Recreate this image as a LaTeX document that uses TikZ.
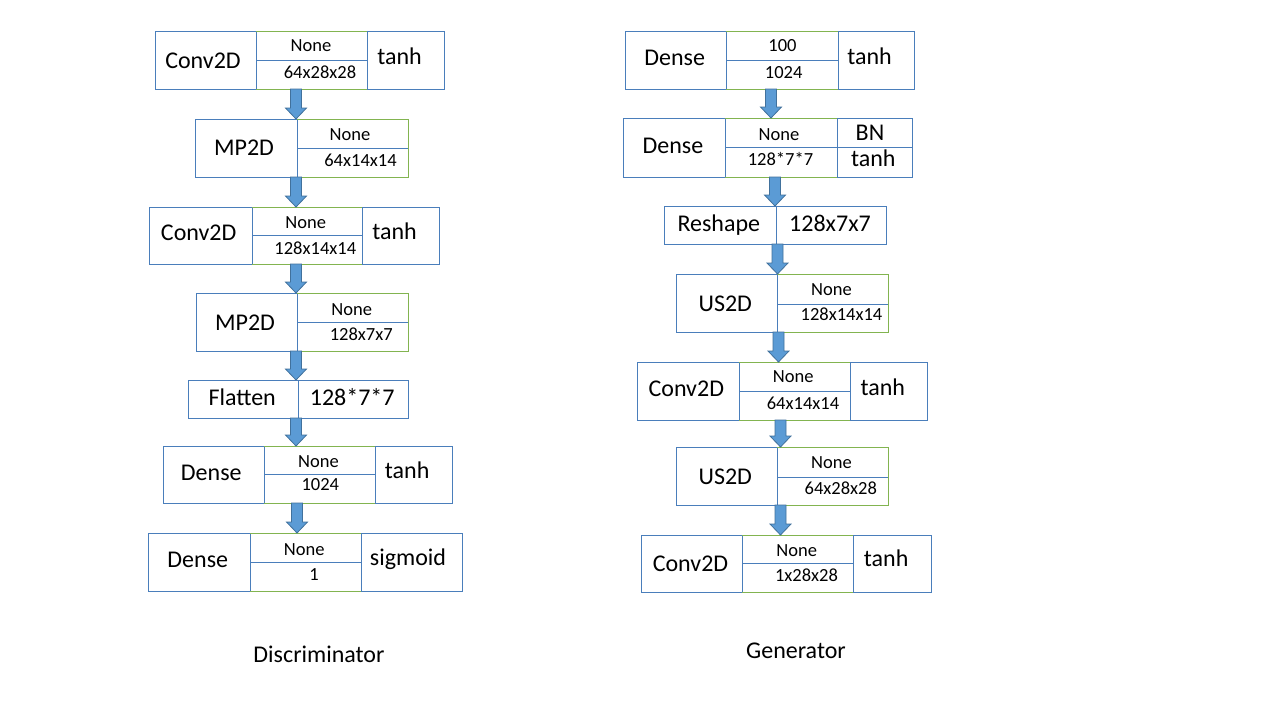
\documentclass[tikz,border=0pt]{standalone}
\usepackage{fontspec}
\setmainfont{Carlito}
\usetikzlibrary{calc}
\definecolor{boxblue}{RGB}{74,126,187}
\definecolor{boxgreen}{RGB}{130,180,80}
\definecolor{arrfill}{RGB}{91,155,213}
\definecolor{arrline}{RGB}{65,113,156}
\tikzset{
  cell/.style={draw=boxblue, line width=1pt, inner sep=0pt, outer sep=0pt},
  gline/.style={draw=boxgreen, line width=1pt},
  bigt/.style={font=\fontsize{24}{28}\selectfont, inner sep=0pt, anchor=base},
  smallt/.style={font=\fontsize{18.5}{22}\selectfont, inner sep=0pt, anchor=base},
  blockarrow/.style={fill=arrfill, draw=arrline, line width=0.8pt, line join=miter},
}
\newcommand{\cellbox}[5]{\node[cell, minimum width={#4pt-#2pt}, minimum height={#5pt-#3pt}] (#1) at ({(#2+#4)/2},{(#3+#5)/2}) {};}
\newcommand{\tx}[5]{\node[#2] (#1) at (#3,#4) {#5};}
\newcommand{\barrow}[3]{\draw[blockarrow] let \p1=(#1.south), \p2=(#2.north) in
  (#3pt-5.5pt,\y1) -- (#3pt+5.5pt,\y1) -- (#3pt+5.5pt,\y2+11pt) -- (#3pt+10.5pt,\y2+11pt)
  -- (#3pt,\y2) -- (#3pt-10.5pt,\y2+11pt) -- (#3pt-5.5pt,\y2+11pt) -- cycle;}
\begin{document}
\begin{tikzpicture}[x=1pt,y=-1pt]
\useasboundingbox (0,0) rectangle (1280,720);
\fill[white] (0,0) rectangle (1280,720);

% ---------------- Discriminator ----------------
% box 1
\cellbox{d1l}{155}{31}{256}{89}
\cellbox{d1t}{256}{31}{367}{60}
\cellbox{d1b}{256}{60}{367}{89}
\cellbox{d1r}{367}{31}{444}{89}
\draw[gline] (d1t.north west) -- (d1t.north east);
\draw[gline] (d1b.south west) -- (d1b.south east);
\tx{d1a}{bigt}{203}{68.3}{Conv2D}
\tx{d1b1}{smallt}{311}{51.7}{None}
\tx{d1b2}{smallt}{320}{78.3}{64x28x28}
\tx{d1c}{bigt}{399.5}{64}{tanh}
% box 2
\cellbox{d2l}{195}{119}{297}{177}
\cellbox{d2t}{297}{119}{408}{148}
\cellbox{d2b}{297}{148}{408}{177}
\draw[gline] (d2t.north west) -- (d2t.north east) -- (d2b.south east) -- (d2b.south west);
\tx{d2a}{bigt}{244}{155}{MP2D}
\tx{d2b1}{smallt}{350}{140}{None}
\tx{d2b2}{smallt}{360.5}{166}{64x14x14}
% box 3
\cellbox{d3l}{149}{207}{252}{264}
\cellbox{d3t}{252}{207}{362}{235}
\cellbox{d3b}{252}{235}{362}{264}
\cellbox{d3r}{362}{207}{439}{264}
\draw[gline] (d3t.north west) -- (d3t.north east);
\draw[gline] (d3b.south west) -- (d3b.south east);
\tx{d3a}{bigt}{198.7}{240.7}{Conv2D}
\tx{d3b1}{smallt}{305.7}{228.3}{None}
\tx{d3b2}{smallt}{315.3}{254}{128x14x14}
\tx{d3c}{bigt}{394.5}{239}{tanh}
% box 4
\cellbox{d4l}{196}{293}{297}{351}
\cellbox{d4t}{297}{293}{408}{322}
\cellbox{d4b}{297}{322}{408}{351}
\draw[gline] (d4t.north west) -- (d4t.north east) -- (d4b.south east) -- (d4b.south west);
\tx{d4a}{bigt}{245}{330}{MP2D}
\tx{d4b1}{smallt}{351.7}{315}{None}
\tx{d4b2}{smallt}{361.3}{340}{128x7x7}
% box 5
\cellbox{d5l}{188}{380}{298}{418}
\cellbox{d5r}{298}{380}{408}{418}
\tx{d5a}{bigt}{242.2}{405.7}{Flatten}
\tx{d5b}{bigt}{352.2}{405.7}{128*7*7}
% box 6
\cellbox{d6l}{163}{446}{264}{503}
\cellbox{d6t}{264}{446}{375}{474}
\cellbox{d6b}{264}{474}{375}{503}
\cellbox{d6r}{375}{446}{452}{503}
\draw[gline] (d6t.north west) -- (d6t.north east);
\draw[gline] (d6b.south west) -- (d6b.south east);
\tx{d6a}{bigt}{211.3}{480}{Dense}
\tx{d6b1}{smallt}{318.5}{467.3}{None}
\tx{d6b2}{smallt}{320.3}{490.7}{1024}
\tx{d6c}{bigt}{407.2}{478.3}{tanh}
% box 7
\cellbox{d7l}{148}{533}{250}{591}
\cellbox{d7t}{250}{533}{361}{562}
\cellbox{d7b}{250}{562}{361}{591}
\cellbox{d7r}{361}{533}{462}{591}
\draw[gline] (d7t.north west) -- (d7t.north east);
\draw[gline] (d7b.south west) -- (d7b.south east);
\tx{d7a}{bigt}{197.8}{567.3}{Dense}
\tx{d7b1}{smallt}{304.3}{555}{None}
\tx{d7b2}{smallt}{314}{580.7}{1}
\tx{d7c}{bigt}{408}{565}{sigmoid}
% arrows
\barrow{d1l}{d2l}{296}
\barrow{d2l}{d3l}{296}
\barrow{d3l}{d4l}{296}
\barrow{d4l}{d5l}{296}
\barrow{d5l}{d6l}{296}
\barrow{d6l}{d7l}{297}
\tx{dcap}{bigt}{319}{662}{Discriminator}

% ---------------- Generator ----------------
% box 1
\cellbox{g1l}{625}{31}{726}{89}
\cellbox{g1t}{726}{31}{838}{60}
\cellbox{g1b}{726}{60}{838}{89}
\cellbox{g1r}{838}{31}{914}{89}
\draw[gline] (g1t.north west) -- (g1t.north east);
\draw[gline] (g1b.south west) -- (g1b.south east);
\tx{g1a}{bigt}{674.7}{65.7}{Dense}
\tx{g1b1}{smallt}{782.5}{51.7}{100}
\tx{g1b2}{smallt}{783.7}{78.3}{1024}
\tx{g1c}{bigt}{869.5}{64}{tanh}
% box 2
\cellbox{g2l}{623}{118}{725}{177}
\cellbox{g2t}{725}{118}{837}{147}
\cellbox{g2b}{725}{147}{837}{177}
\cellbox{g2rt}{837}{118}{912}{147}
\cellbox{g2rb}{837}{147}{912}{177}
\draw[gline] (g2t.north west) -- (g2t.north east);
\draw[gline] (g2b.south west) -- (g2b.south east);
\tx{g2a}{bigt}{673}{153.3}{Dense}
\tx{g2b1}{smallt}{779}{140}{None}
\tx{g2b2}{smallt}{780.5}{165}{128*7*7}
\tx{g2c1}{bigt}{870}{140}{BN}
\tx{g2c2}{bigt}{873.3}{166.7}{tanh}
% box 3
\cellbox{g3l}{664}{206}{776}{244}
\cellbox{g3r}{776}{206}{886}{244}
\tx{g3a}{bigt}{718.8}{231.7}{Reshape}
\tx{g3b}{bigt}{830}{231.7}{128x7x7}
% box 4
\cellbox{g4l}{676}{274}{777}{332}
\cellbox{g4t}{777}{274}{888}{304}
\cellbox{g4b}{777}{304}{888}{332}
\draw[gline] (g4t.north west) -- (g4t.north east) -- (g4b.south east) -- (g4b.south west);
\tx{g4a}{bigt}{725.3}{311}{US2D}
\tx{g4b1}{smallt}{831.5}{295}{None}
\tx{g4b2}{smallt}{841.5}{320.7}{128x14x14}
% box 5
\cellbox{g5l}{637}{362}{739}{420}
\cellbox{g5t}{739}{362}{850}{391}
\cellbox{g5b}{739}{391}{850}{420}
\cellbox{g5r}{850}{362}{927}{420}
\draw[gline] (g5t.north west) -- (g5t.north east);
\draw[gline] (g5b.south west) -- (g5b.south east);
\tx{g5a}{bigt}{686.3}{396.7}{Conv2D}
\tx{g5b1}{smallt}{793.3}{382.7}{None}
\tx{g5b2}{smallt}{803}{409}{64x14x14}
\tx{g5c}{bigt}{882.8}{395}{tanh}
% box 6
\cellbox{g6l}{676}{447}{777}{505}
\cellbox{g6t}{777}{447}{888}{477}
\cellbox{g6b}{777}{477}{888}{505}
\draw[gline] (g6t.north west) -- (g6t.north east) -- (g6b.south east) -- (g6b.south west);
\tx{g6a}{bigt}{725.3}{484.3}{US2D}
\tx{g6b1}{smallt}{831.5}{468.3}{None}
\tx{g6b2}{smallt}{840.8}{494}{64x28x28}
% box 7
\cellbox{g7l}{641}{535}{742}{592}
\cellbox{g7t}{742}{535}{853}{563}
\cellbox{g7b}{742}{563}{853}{592}
\cellbox{g7r}{853}{535}{931}{592}
\draw[gline] (g7t.north west) -- (g7t.north east);
\draw[gline] (g7b.south west) -- (g7b.south east);
\tx{g7a}{bigt}{690.5}{571}{Conv2D}
\tx{g7b1}{smallt}{796.7}{556}{None}
\tx{g7b2}{smallt}{806.5}{581.7}{1x28x28}
\tx{g7c}{bigt}{886.2}{566.7}{tanh}
% arrows
\barrow{g1l}{g2l}{771}
\barrow{g2l}{g3l}{775}
\barrow{g3l}{g4l}{777.5}
\barrow{g4l}{g5l}{778.5}
\barrow{g5l}{g6l}{780.5}
\barrow{g6l}{g7l}{780.5}
\tx{gcap}{bigt}{796}{658}{Generator}
\end{tikzpicture}
\end{document}
